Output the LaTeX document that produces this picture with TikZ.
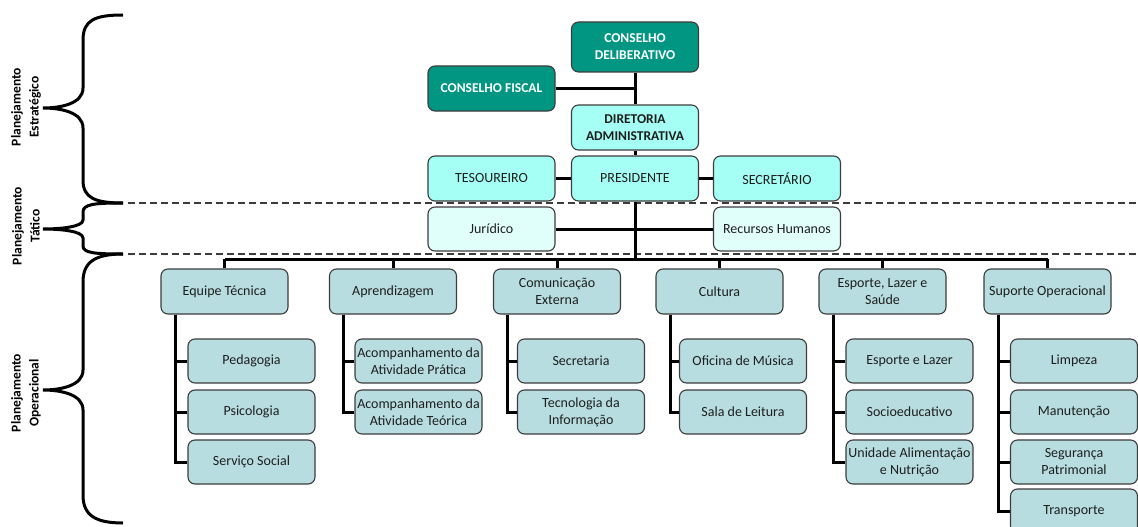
\documentclass[tikz,border=0pt]{standalone}
\usepackage{fontspec}
\setmainfont{Carlito}
\usetikzlibrary{positioning}

\definecolor{verdeC}{RGB}{0,150,130}
\definecolor{cianoC}{RGB}{165,255,244}
\definecolor{cianoL}{RGB}{224,255,251}
\definecolor{azulC}{RGB}{183,221,225}
\definecolor{bordaC}{RGB}{60,60,60}
\definecolor{textoC}{RGB}{30,30,30}

\tikzset{
  caixa/.style={draw=bordaC, line width=1.1pt, rounded corners=7pt, align=center,
    inner sep=1pt, text=textoC, minimum width=127pt, minimum height=45pt,
    font=\fontsize{14}{17}\selectfont},
  conselho/.style={caixa, fill=verdeC, text=white, font=\fontsize{13.5}{17}\selectfont\bfseries},
  diretoria/.style={caixa, fill=cianoC},
  apoio/.style={caixa, fill=cianoL, minimum height=44pt},
  setor/.style={caixa, fill=azulC},
  subsetor/.style={caixa, fill=azulC, minimum height=44pt},
  ligacao/.style={line width=3pt},
  nivel/.style={draw=bordaC, line width=1.5pt, dash pattern=on 7pt off 4pt},
  chave/.style={line width=3pt},
  rotulo/.style={rotate=90, align=center, font=\fontsize{13.5}{18}\selectfont\bfseries}
}

\begin{document}
\begin{tikzpicture}[x=1pt, y=-1pt]
	\useasboundingbox (0,0) rectangle (1138,527);
	\clip (0,0) rectangle (1138,527);
	% chaves e rotulos dos niveis
	\draw[chave] (123,15) .. controls (95,15) and (83,20) .. (83,40) -- (83,88) .. controls (83,104) and (60,108) .. (43,108) .. controls (60,108) and (83,112) .. (83,128) -- (83,180) .. controls (83,198) and (95,203) .. (123,203);
	\draw[chave] (123,203) .. controls (95,203) and (83,204) .. (83,212) -- (83,220) .. controls (83,227) and (60,229) .. (43,229) .. controls (60,229) and (83,231) .. (83,238) -- (83,246) .. controls (83,253) and (95,254) .. (123,254);
	\draw[chave] (123,254) .. controls (95,254) and (83,262) .. (83,282) -- (83,370) .. controls (83,386) and (60,390) .. (43,390) .. controls (60,390) and (83,394) .. (83,410) -- (83,495) .. controls (83,515) and (95,523) .. (123,523);
	\node[rotulo] (estrat) at (26,107) {Planejamento\\Estratégico};
	\node[rotulo] (tatico) at (26,226) {Planejamento\\Tático};
	\node[rotulo] (operac) at (26,393) {Planejamento\\Operacional};
	\draw[nivel] (128,203) -- (1138,203);
	\draw[nivel] (128,254) -- (1138,254);
	% alta direcao
	\node[conselho, minimum height=50pt] (cdel) at (635,47) {CONSELHO\\DELIBERATIVO};
	\node[conselho] (cfis) at (491.5,88.5) {CONSELHO FISCAL};
	\node[diretoria, font=\fontsize{13.5}{17}\selectfont\bfseries] (dir) at (635,127.5) {DIRETORIA\\ADMINISTRATIVA};
	\node[diretoria] (pres) at (635,178.5) {PRESIDENTE};
	\node[diretoria] (tes) at (491.5,178.5) {TESOUREIRO};
	\node[diretoria] (sec) at (777,178.5) {SECRETÁRIO};
	\node[apoio] (jur) at (491.5,229) {Jurídico};
	\node[apoio] (rh) at (777,229) {Recursos Humanos};
	\coordinate (barra) at (635,259);
	\draw[ligacao] (cdel) -- (dir);
	\draw[ligacao] (cfis.east) -- (cfis.east -| cdel.south);
	\draw[ligacao] (dir) -- (pres);
	\draw[ligacao] (tes) -- (pres);
	\draw[ligacao] (pres) -- (sec);
	\draw[ligacao] (jur) -- (rh);
	\draw[ligacao] (pres.south) -- (barra);
	% setores
	\foreach \n/\x/\t in {eqp/224.5/{Equipe Técnica}, apr/393/Aprendizagem, com/557/{Comunicação\\Externa},
	    cul/719.5/Cultura, esp/882.5/{Esporte, Lazer e\\Saúde}, sup/1047.5/{Suporte Operacional}}
	    {\node[setor] (\n) at (\x,291.5) {\t};
	     \draw[ligacao] (\n.north) -- (\n.north |- barra);}
	\draw[ligacao] (eqp.north |- barra) -- (sup.north |- barra);
	% subsetores
	\foreach \p/\c/\x/\y/\t in {eqp/ped/251.5/361/Pedagogia, eqp/psi/251.5/412/Psicologia, eqp/ssoc/251.5/462/{Serviço Social},
	    apr/acp/418.5/361/{Acompanhamento da\\Atividade Prática}, apr/act/418.5/412/{Acompanhamento da\\Atividade Teórica},
	    com/secr/581/361/Secretaria, com/ti/581/412/{Tecnologia da\\Informação},
	    cul/musi/743/361/{Oficina de Música}, cul/leit/743/412/{Sala de Leitura},
	    esp/lazr/909.5/361/{Esporte e Lazer}, esp/soc/909.5/412/Socioeducativo, esp/uan/909.5/462/{Unidade Alimentação\\e Nutrição},
	    sup/limp/1074/361/Limpeza, sup/manu/1074/412/Manutenção, sup/segp/1074/462/{Segurança\\Patrimonial}, sup/trsp/1074/511/Transporte}
	    {\node[subsetor] (\c) at (\x,\y) {\t};
	     \draw[ligacao] ([xshift=15pt]\p.south west) |- (\c.west);}
\end{tikzpicture}
\end{document}
